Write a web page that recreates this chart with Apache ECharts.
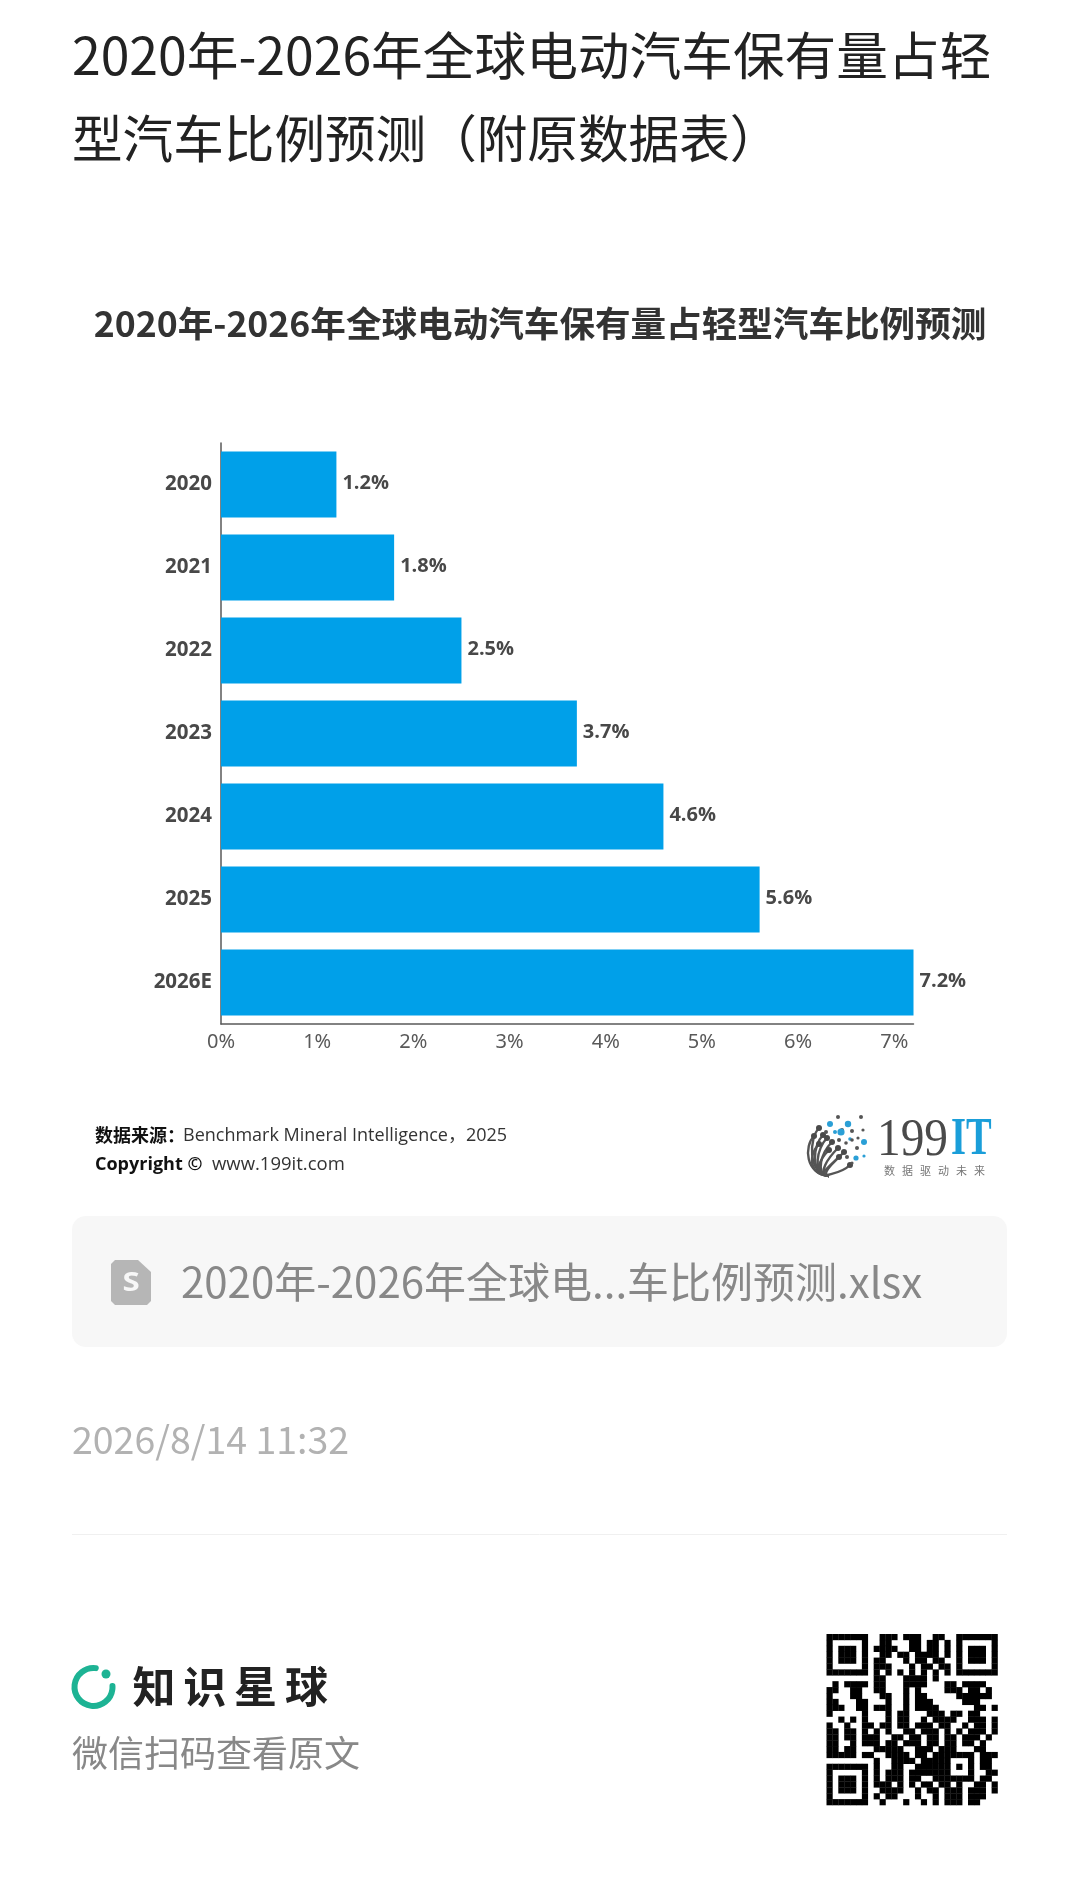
<!DOCTYPE html>
<html><head><meta charset="utf-8">
<style>html,body{margin:0;padding:0;background:#fff}#c{width:1080px;height:1904px}</style>
<script src="https://cdn.jsdelivr.net/npm/echarts@6/dist/echarts.min.js"></script>
</head><body><div id="c"></div>
<script>
var categories=['2020','2021','2022','2023','2024','2025','2026E'];
var shares=[1.2,1.8,2.5,3.7,4.6,5.6,7.2];
var pageTitleA='2020年-2026年全球电动汽车保有量占轻';
var pageTitleB='型汽车比例预测（附原数据表）';
var chartTitle='2020年-2026年全球电动汽车保有量占轻型汽车比例预测';
var sourceLabel='数据来源：';
var sourceText='Benchmark Mineral Intelligence，2025';
var copyLabel='Copyright ©';
var copySite='www.199it.com';
var fileName='2020年-2026年全球电...车比例预测.xlsx';
var stamp='2026/8/14 11:32';
var brand=['知','识','星','球'];
var scanHint='微信扫码查看原文';
var slogan=['数','据','驱','动','未','来'];
var qrRows=[
'#######.'+'.###.###..##.'+'.#######',
'#.....#.'+'.##...##.##.#'+'.#.....#',
'#.###.#.'+'####..##.##.#'+'.#.###.#',
'#.###.#.'+'.##.##.####.#'+'.#.###.#',
'#.###.#.'+'##...#.##.##.'+'.#.###.#',
'#.....#.'+'###...#.##.##'+'.#.....#',
'#######.'+'#.#.#.#.#.#.#'+'.#######',
'........'+'##...####.#..'+'........',
'.#.####.'+'##...####...#'+'#.####..',
'##..##..'+'##...#.#....#'+'##.##.#.',
'#...##..'+'.##..#.##....'+'.######.',
'##...##.'+'..#..#.###...'+'..###...',
'###..##.'+'###..#.####..'+'....##.#',
'#.....#.'+'..#.##...###.'+'##.##...',
'..#.#.#.'+'..#.##..#.###'+'#..###.#',
'#..#..##'+'.##.##.###.##'+'..#.##.#',
'##.##.#.'+'#.#..##.###.#'+'.#.###.#',
'##.##.##'+'#..##.##.##.#'+'#.###.#.',
'##..#.##'+'#.##.###.##.#'+'#.##.#..',
'##.##...'+'#####..###.##'+'#...##..',
'#####.##'+'..####.##.###'+'####.###',
'........'+'#..####.#####'+'...#.##.',
'#######.'+'#..##..######'+'.#.#.##.',
'#.....#.'+'#.###.#######'+'...#..##',
'#.###.#.'+'#.###.##..###'+'####.##.',
'#.###.#.'+'###.#.#.##.##'+'.#..##.#',
'#.###.#.'+'.####..#.##.#'+'##.###.#',
'#.....#.'+'#.##...#..#.#'+'##.###..',
'#######.'+'.#...#..#.#.#'+'##.##...'
];
var emblemDots=[[838,1117,2,'#555'],[861,1117,2,'#555'],[830,1124,3,'#2a9fd6'],[848,1124,3.2,'#2a9fd6'],[842,1130,2,'#555'],[826,1132,2,'#555'],[835,1132,2,'#2a9fd6'],[841,1132,3.6,'#2a9fd6'],[852,1131,2,'#555'],[863,1130,1.6,'#555'],[850,1139,1.8,'#2a9fd6'],[858,1138,1.6,'#555'],[839,1140,2,'#555'],[852,1140,1.8,'#555'],[864,1142,3,'#2a9fd6'],[846,1143,1.8,'#555'],[857,1148,2,'#555'],[864,1156,1.6,'#2a9fd6'],[856,1158,2.6,'#2a9fd6'],[847,1157,2,'#555'],[852,1163,1.6,'#555']];
var emblemEnds=[[818,1128],[813,1136],[822,1135],[826,1138],[831,1142],[818,1144],[837,1148],[828,1150],[843,1152],[838,1157],[849,1165]];

var CJK='"Noto Sans CJK SC","Noto Sans",sans-serif';
var LAT='"Open Sans","Noto Sans CJK SC",sans-serif';
var g=[];
function txt(x,y,t,size,color,weight,extra){
  var s={text:t,x:x,y:y,fontSize:size,fontFamily:CJK,fill:color,fontWeight:weight||'normal',verticalAlign:'middle',align:'left'};
  if(extra)for(var k in extra)s[k]=extra[k];
  return {type:'text',silent:true,style:s};
}
// source lines
g.push(txt(95,1135,sourceLabel,18,'#111','bold'));
g.push(txt(183,1136,sourceText,18,'#333','normal',{fontFamily:LAT}));
g.push(txt(95,1165,copyLabel,18,'#111','bold',{fontFamily:LAT}));
g.push(txt(212,1165,copySite,18.5,'#333','normal',{fontFamily:LAT}));
// 199IT logo
g.push({type:'text',silent:true,x:877,y:1141,scaleX:0.91,style:{text:'199',x:0,y:0,fontSize:52,fontFamily:'"Liberation Serif",serif',fill:'#4a4a4a',verticalAlign:'middle',align:'left'}});
g.push({type:'text',silent:true,x:951,y:1141,scaleX:0.74,style:{text:'IT',x:0,y:0,fontSize:52,fontFamily:'"Liberation Serif",serif',fill:'#1a9ed9',fontWeight:'bold',verticalAlign:'middle',align:'left'}});
slogan.forEach(function(ch,i){g.push(txt(884+i*18,1171,ch,11,'#777'));});
emblemEnds.forEach(function(e){
  g.push({type:'bezierCurve',silent:true,shape:{x1:829,y1:1176,x2:e[0]+1,y2:e[1],cpx1:(829+e[0])/2-16,cpy1:1174,cpx2:e[0]-9,cpy2:e[1]+10},style:{stroke:'#555',lineWidth:2.4,fill:null}});
  g.push({type:'circle',silent:true,shape:{cx:e[0]+1,cy:e[1],r:3},style:{fill:'#4a4a4a'}});
});
emblemDots.forEach(function(d){g.push({type:'circle',silent:true,shape:{cx:d[0],cy:d[1],r:d[2]},style:{fill:d[3]}});});
// file card
g.push({type:'rect',silent:true,shape:{x:72,y:1216,width:935,height:131,r:14},style:{fill:'#f7f7f7'}});
g.push({type:'polygon',silent:true,shape:{points:[[115,1260],[138,1260],[151,1272],[151,1301],[147,1305],[115,1305],[111,1301],[111,1264]]},style:{fill:'#b6b6b6'}});
g.push({type:'text',silent:true,scaleX:1.2,x:131,y:1284,style:{text:'S',x:0,y:0,fontSize:26,fontWeight:'bold',fontFamily:'"Open Sans",sans-serif',fill:'#f7f7f7',align:'center',verticalAlign:'middle'}});
g.push(txt(181,1282,fileName,42,'#888'));
// date and rule
g.push(txt(72,1440,stamp,37.5,'#b2b2b2'));
g.push({type:'line',silent:true,shape:{x1:72,y1:1534.5,x2:1007,y2:1534.5},style:{stroke:'#f0f0f0',lineWidth:1}});
// brand
g.push({type:'arc',silent:true,shape:{cx:93.5,cy:1687,r:19,startAngle:-1.45,endAngle:-0.05,clockwise:false},style:{stroke:'#1db394',lineWidth:6,lineCap:'round',fill:null}});
g.push({type:'circle',silent:true,shape:{cx:106,cy:1674,r:4.5},style:{fill:'#1db394'}});
brand.forEach(function(ch,i){g.push(txt(132.5+i*50.8,1687,ch,43,'#222','bold'));});
g.push(txt(72,1753,scanHint,36,'#888'));
// QR
var qx=826.5,qy=1634,qm=171/qrRows.length;
qrRows.forEach(function(row,r){
  for(var c=0;c<row.length;c++){
    if(row.charAt(c)==='#')g.push({type:'rect',silent:true,shape:{x:qx+c*qm,y:qy+r*qm,width:qm+0.3,height:qm+0.3},style:{fill:'#000'}});
  }
});

var chart=echarts.init(document.getElementById('c'),null,{width:1080,height:1904});
chart.setOption({
  animation:false,
  backgroundColor:'#fff',
  title:[
    {text:pageTitleA,left:67,top:8,padding:5,textStyle:{fontSize:51.7,fontWeight:'normal',lineHeight:84,color:'#222',fontFamily:CJK}},
    {text:pageTitleB,left:67,top:92,padding:5,textStyle:{fontSize:50.6,fontWeight:'normal',lineHeight:84,color:'#222',fontFamily:CJK}},
    {text:chartTitle,left:535,top:298,textAlign:'center',textStyle:{fontSize:35.6,fontWeight:'bold',lineHeight:40,color:'#333',fontFamily:CJK}}
  ],
  grid:{left:221,top:443,width:692.5,height:581,containLabel:false},
  xAxis:{type:'value',min:0,max:7.2,interval:1,
    axisLine:{show:true,lineStyle:{color:'#595959',width:1.5}},
    axisTick:{show:false},splitLine:{show:false},
    axisLabel:{formatter:'{value}%',showMaxLabel:false,fontSize:20,color:'#595959',margin:8,fontFamily:'"Noto Sans",sans-serif'}},
  yAxis:{type:'category',inverse:true,data:categories,
    axisLine:{show:true,lineStyle:{color:'#595959',width:1.5}},
    axisTick:{show:false},
    axisLabel:{fontSize:20.5,fontWeight:'bold',color:'#484848',margin:9,padding:[0,0,2,0],fontFamily:LAT}},
  series:[{type:'bar',data:shares,barWidth:66,itemStyle:{color:'#00a0e9'},
    label:{show:true,position:'right',distance:6,offset:[0,-1],formatter:'{c}%',fontSize:20,fontWeight:'bold',color:'#484848',fontFamily:LAT}}],
  graphic:{elements:g}
});
</script></body></html>
